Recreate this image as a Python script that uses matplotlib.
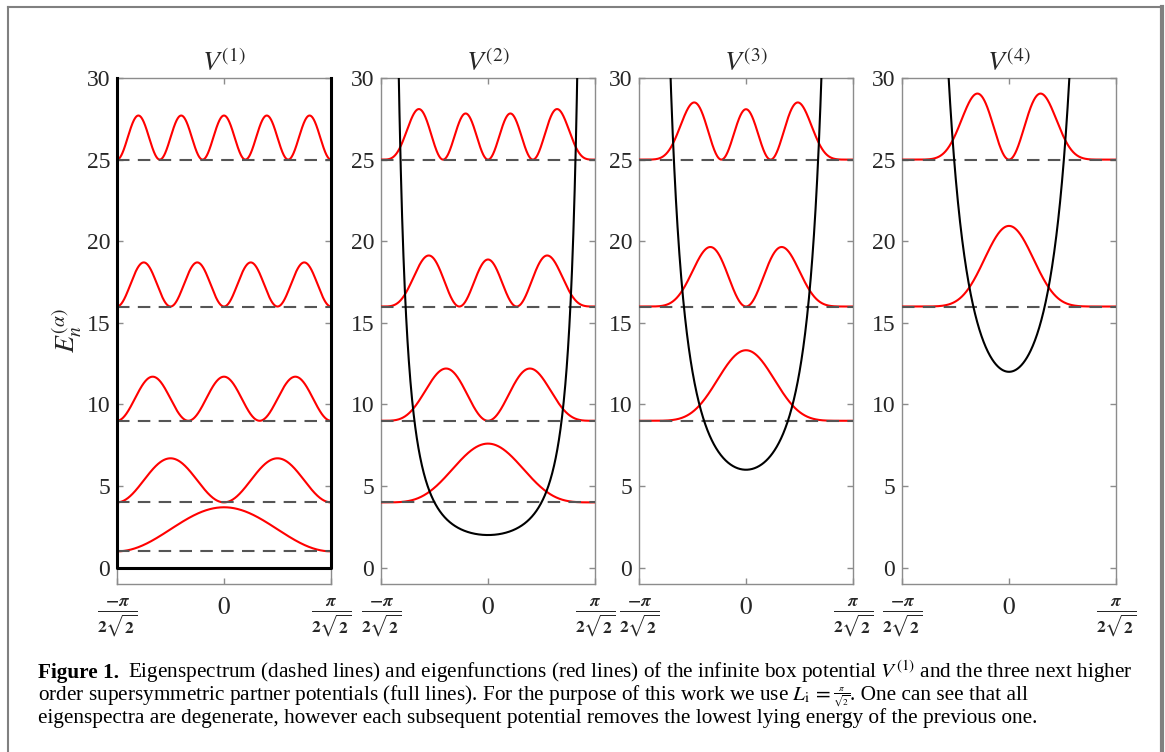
import numpy as np
import matplotlib
matplotlib.use('Agg')
import matplotlib.pyplot as plt
from matplotlib.lines import Line2D

plt.rcParams['font.family'] = ['Liberation Serif', 'DejaVu Serif']
plt.rcParams['mathtext.fontset'] = 'stix'

# energy levels shown in each panel (alpha = 1..4)
levels = [[1, 4, 9, 16, 25],
          [4, 9, 16, 25],
          [9, 16, 25],
          [16, 25]]
panelTitles = [r'$V^{(1)}$', r'$V^{(2)}$', r'$V^{(3)}$', r'$V^{(4)}$']
yTicks = [0, 5, 10, 15, 20, 25, 30]
xTickLabels = [r'$\frac{\boldsymbol{-\pi}}{\mathbf{2}\sqrt{\mathbf{2}}}$', r'$0$',
               r'$\frac{\boldsymbol{\pi}}{\mathbf{2}\sqrt{\mathbf{2}}}$']
psiScale = 3.0  # |psi|^2 is scaled by this before being put on the level

halfL = np.pi / (2 * np.sqrt(2))
x = np.linspace(-halfL, halfL, 801)
y = np.sqrt(2) * x


def gegenbauer(n, lam, t):
    c0 = np.ones_like(t)
    if n == 0:
        return c0
    c1 = 2 * lam * t
    for k in range(2, n + 1):
        c0, c1 = c1, (2 * t * (k + lam - 1) * c1 - (k + 2 * lam - 2) * c0) / k
    return c1


def density(alpha, energy):
    # eigenfunction of alpha(alpha-1)/cos^2 potential with energy (n+alpha)^2
    n = int(round(np.sqrt(energy))) - alpha
    psi = np.cos(y) ** alpha * gegenbauer(n, alpha, np.sin(y))
    rho = psi ** 2
    return rho / np.trapezoid(rho, x)


W, H = 1165, 752
fig = plt.figure(figsize=(W / 100, H / 100), dpi=100)
lefts = [117, 381, 639, 902]
axW, top, bot = 214, 78, 584
spineCol = '#8c8c8c'

for i, left in enumerate(lefts):
    alpha = i + 1
    ax = fig.add_axes([left / W, 1 - bot / H, axW / W, (bot - top) / H])
    for E in levels[i]:
        ax.plot(x, E + psiScale * density(alpha, E), color='#ff0000', lw=1.5, zorder=3)
        ax.axhline(E, color='#555555', lw=1.5, ls=(0, (6, 4)), zorder=4)
    if alpha == 1:
        ax.plot([-halfL, -halfL, halfL, halfL], [30, 0, 0, 30], color='black',
                lw=2.2, zorder=5, clip_on=False)
    else:
        V = alpha * (alpha - 1) / np.cos(y) ** 2
        ax.plot(x, V, color='black', lw=1.5, zorder=5)
    ax.set_xlim(-halfL, halfL)
    ax.set_ylim(-1, 30)
    ax.set_yticks(yTicks)
    ax.set_xticks([-halfL, 0, halfL])
    ax.set_xticklabels(xTickLabels)
    ax.tick_params(direction='in', length=4, width=1, color=spineCol,
                   top=True, right=True, labelsize=17, labelcolor='#262626')
    ax.tick_params(axis='x', pad=9, labelsize=18)
    ax.tick_params(axis='y', pad=5)
    for s in ax.spines.values():
        s.set_color(spineCol)
        s.set_linewidth(1.0)
    ax.set_title(panelTitles[i], fontsize=20, pad=5, color='#262626')
    if i == 0:
        ax.set_ylabel(r'$E_n^{(\alpha)}$', fontsize=20, labelpad=2, color='#262626')

# outer frame
frameCol = '#808080'
fig.add_artist(Line2D([8 / W, 8 / W], [0, 1 - 7 / H], transform=fig.transFigure, color=frameCol, lw=1.5))
fig.add_artist(Line2D([8 / W, 1162 / W], [1 - 7 / H, 1 - 7 / H], transform=fig.transFigure, color=frameCol, lw=1.5))
fig.add_artist(Line2D([1162 / W, 1162 / W], [0, 1 - 7 / H], transform=fig.transFigure, color=frameCol, lw=3))

# caption
capX = 38 / W
capSize = 15.3


def textAfter(prev, s, yPix, gap=0.0, **kw):
    fig.canvas.draw()
    bb = prev.get_window_extent()
    return fig.text((bb.x1 + gap) / W, 1 - yPix / H, s, va='baseline', **kw)


t = fig.text(capX, 1 - 678 / H, 'Figure 1.', fontsize=capSize, fontweight='bold', va='baseline')
textAfter(t, r'Eigenspectrum (dashed lines) and eigenfunctions (red lines) of the infinite box potential $V^{(1)}$ and the three next higher',
          678, gap=9, fontsize=capSize)
t = fig.text(capX, 1 - 700 / H,
             r'order supersymmetric partner potentials (full lines). For the purpose of this work we use $L_{\mathrm{i}}\,=\,$',
             fontsize=capSize, va='baseline')
t = textAfter(t, r'$\frac{\pi}{\sqrt{2}}$', 696, gap=2, fontsize=9.5)
textAfter(t, '. One can see that all', 700, fontsize=capSize)
fig.text(capX, 1 - 723 / H,
         'eigenspectra are degenerate, however each subsequent potential removes the lowest lying energy of the previous one.',
         fontsize=capSize, va='baseline')

fig.savefig('out.png', dpi=100)
